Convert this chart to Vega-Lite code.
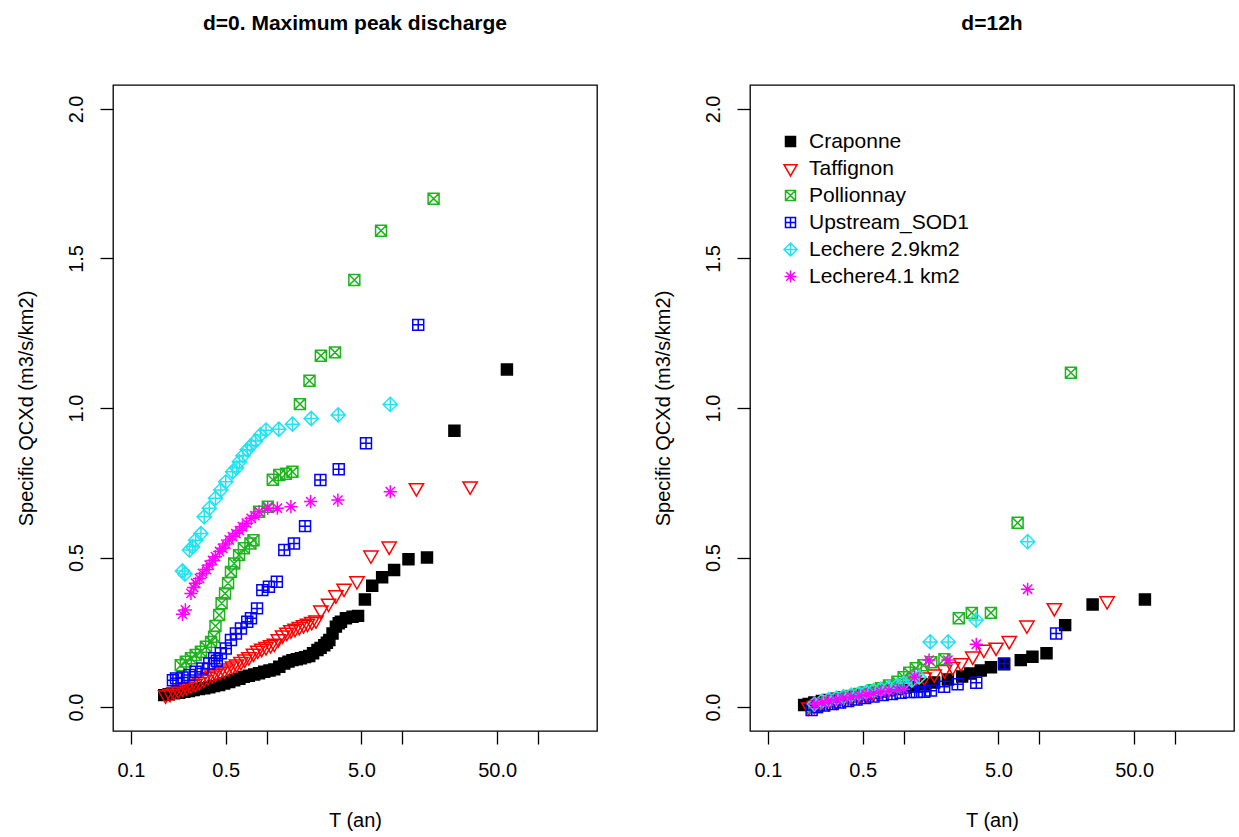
{
  "$schema": "https://vega.github.io/schema/vega-lite/v6.json",
  "background": "white",
  "padding": {"left": 15, "top": 12, "right": 0, "bottom": 0},
  "config": {
    "font": "Liberation Sans",
    "view": {"stroke": "black", "strokeWidth": 1.3},
    "axis": {
      "grid": false, "domain": false,
      "tickColor": "black", "tickSize": 13, "tickWidth": 1.3,
      "labelColor": "black", "labelFontSize": 20, "labelFont": "Liberation Sans",
      "titleColor": "black", "titleFontSize": 20, "titleFontWeight": "normal", "titleFont": "Liberation Sans"
    },
    "title": {"fontSize": 21, "fontWeight": "bold", "anchor": "middle", "offset": 51, "color": "black", "font": "Liberation Sans"}
  },
  "datasets": {
    "d0": [
      {"site": "Craponne", "T": 0.176, "q": 0.04}, {"site": "Craponne", "T": 0.19, "q": 0.043}, {"site": "Craponne", "T": 0.208, "q": 0.046},
      {"site": "Craponne", "T": 0.227, "q": 0.048}, {"site": "Craponne", "T": 0.247, "q": 0.051}, {"site": "Craponne", "T": 0.268, "q": 0.054},
      {"site": "Craponne", "T": 0.29, "q": 0.057}, {"site": "Craponne", "T": 0.317, "q": 0.06}, {"site": "Craponne", "T": 0.347, "q": 0.063},
      {"site": "Craponne", "T": 0.378, "q": 0.066}, {"site": "Craponne", "T": 0.41, "q": 0.07}, {"site": "Craponne", "T": 0.447, "q": 0.074},
      {"site": "Craponne", "T": 0.487, "q": 0.079}, {"site": "Craponne", "T": 0.53, "q": 0.084}, {"site": "Craponne", "T": 0.577, "q": 0.09},
      {"site": "Craponne", "T": 0.63, "q": 0.095}, {"site": "Craponne", "T": 0.68, "q": 0.101}, {"site": "Craponne", "T": 0.74, "q": 0.105},
      {"site": "Craponne", "T": 0.81, "q": 0.109}, {"site": "Craponne", "T": 0.88, "q": 0.113}, {"site": "Craponne", "T": 0.96, "q": 0.118},
      {"site": "Craponne", "T": 1.05, "q": 0.122}, {"site": "Craponne", "T": 1.14, "q": 0.126}, {"site": "Craponne", "T": 1.24, "q": 0.135},
      {"site": "Craponne", "T": 1.35, "q": 0.146}, {"site": "Craponne", "T": 1.45, "q": 0.152}, {"site": "Craponne", "T": 1.55, "q": 0.157},
      {"site": "Craponne", "T": 1.67, "q": 0.16}, {"site": "Craponne", "T": 1.79, "q": 0.163}, {"site": "Craponne", "T": 1.92, "q": 0.167},
      {"site": "Craponne", "T": 2.06, "q": 0.171}, {"site": "Craponne", "T": 2.2, "q": 0.18}, {"site": "Craponne", "T": 2.37, "q": 0.191},
      {"site": "Craponne", "T": 2.5, "q": 0.198}, {"site": "Craponne", "T": 2.66, "q": 0.207}, {"site": "Craponne", "T": 2.78, "q": 0.215},
      {"site": "Craponne", "T": 2.9, "q": 0.224}, {"site": "Craponne", "T": 3.06, "q": 0.246}, {"site": "Craponne", "T": 3.24, "q": 0.269},
      {"site": "Craponne", "T": 3.4, "q": 0.28}, {"site": "Craponne", "T": 3.53, "q": 0.285}, {"site": "Craponne", "T": 3.84, "q": 0.297},
      {"site": "Craponne", "T": 4.3, "q": 0.302}, {"site": "Craponne", "T": 4.72, "q": 0.305}, {"site": "Craponne", "T": 5.3, "q": 0.36},
      {"site": "Craponne", "T": 6.0, "q": 0.406}, {"site": "Craponne", "T": 7.1, "q": 0.434}, {"site": "Craponne", "T": 8.7, "q": 0.458},
      {"site": "Craponne", "T": 11.1, "q": 0.494}, {"site": "Craponne", "T": 15.2, "q": 0.5}, {"site": "Craponne", "T": 24.2, "q": 0.924},
      {"site": "Craponne", "T": 59.0, "q": 1.129},

      {"site": "Taffignon", "T": 0.18, "q": 0.04}, {"site": "Taffignon", "T": 0.194, "q": 0.045}, {"site": "Taffignon", "T": 0.208, "q": 0.051},
      {"site": "Taffignon", "T": 0.223, "q": 0.057}, {"site": "Taffignon", "T": 0.24, "q": 0.063}, {"site": "Taffignon", "T": 0.258, "q": 0.068},
      {"site": "Taffignon", "T": 0.277, "q": 0.074}, {"site": "Taffignon", "T": 0.298, "q": 0.079}, {"site": "Taffignon", "T": 0.32, "q": 0.085},
      {"site": "Taffignon", "T": 0.344, "q": 0.093}, {"site": "Taffignon", "T": 0.37, "q": 0.101}, {"site": "Taffignon", "T": 0.395, "q": 0.107},
      {"site": "Taffignon", "T": 0.42, "q": 0.113}, {"site": "Taffignon", "T": 0.452, "q": 0.118}, {"site": "Taffignon", "T": 0.487, "q": 0.124},
      {"site": "Taffignon", "T": 0.52, "q": 0.13}, {"site": "Taffignon", "T": 0.56, "q": 0.137}, {"site": "Taffignon", "T": 0.6, "q": 0.144},
      {"site": "Taffignon", "T": 0.647, "q": 0.152}, {"site": "Taffignon", "T": 0.69, "q": 0.16}, {"site": "Taffignon", "T": 0.74, "q": 0.168},
      {"site": "Taffignon", "T": 0.8, "q": 0.18}, {"site": "Taffignon", "T": 0.86, "q": 0.19}, {"site": "Taffignon", "T": 0.92, "q": 0.196},
      {"site": "Taffignon", "T": 0.99, "q": 0.202}, {"site": "Taffignon", "T": 1.07, "q": 0.208}, {"site": "Taffignon", "T": 1.14, "q": 0.213},
      {"site": "Taffignon", "T": 1.22, "q": 0.228}, {"site": "Taffignon", "T": 1.31, "q": 0.241}, {"site": "Taffignon", "T": 1.41, "q": 0.25},
      {"site": "Taffignon", "T": 1.51, "q": 0.258}, {"site": "Taffignon", "T": 1.62, "q": 0.263}, {"site": "Taffignon", "T": 1.74, "q": 0.269},
      {"site": "Taffignon", "T": 1.87, "q": 0.275}, {"site": "Taffignon", "T": 2.0, "q": 0.28}, {"site": "Taffignon", "T": 2.15, "q": 0.286},
      {"site": "Taffignon", "T": 2.31, "q": 0.291}, {"site": "Taffignon", "T": 2.51, "q": 0.324}, {"site": "Taffignon", "T": 2.86, "q": 0.347},
      {"site": "Taffignon", "T": 3.24, "q": 0.375}, {"site": "Taffignon", "T": 3.72, "q": 0.397}, {"site": "Taffignon", "T": 4.63, "q": 0.422},
      {"site": "Taffignon", "T": 5.87, "q": 0.508}, {"site": "Taffignon", "T": 8.0, "q": 0.538}, {"site": "Taffignon", "T": 12.7, "q": 0.733},
      {"site": "Taffignon", "T": 31.6, "q": 0.739},

      {"site": "Pollionnay", "T": 0.233, "q": 0.14}, {"site": "Pollionnay", "T": 0.254, "q": 0.152}, {"site": "Pollionnay", "T": 0.277, "q": 0.163},
      {"site": "Pollionnay", "T": 0.3, "q": 0.174}, {"site": "Pollionnay", "T": 0.328, "q": 0.185}, {"site": "Pollionnay", "T": 0.357, "q": 0.202},
      {"site": "Pollionnay", "T": 0.39, "q": 0.218}, {"site": "Pollionnay", "T": 0.41, "q": 0.235}, {"site": "Pollionnay", "T": 0.42, "q": 0.271},
      {"site": "Pollionnay", "T": 0.447, "q": 0.308}, {"site": "Pollionnay", "T": 0.466, "q": 0.347}, {"site": "Pollionnay", "T": 0.494, "q": 0.38},
      {"site": "Pollionnay", "T": 0.52, "q": 0.414}, {"site": "Pollionnay", "T": 0.546, "q": 0.452}, {"site": "Pollionnay", "T": 0.577, "q": 0.48},
      {"site": "Pollionnay", "T": 0.627, "q": 0.508}, {"site": "Pollionnay", "T": 0.68, "q": 0.531}, {"site": "Pollionnay", "T": 0.76, "q": 0.547},
      {"site": "Pollionnay", "T": 0.8, "q": 0.558}, {"site": "Pollionnay", "T": 0.88, "q": 0.653}, {"site": "Pollionnay", "T": 1.02, "q": 0.67},
      {"site": "Pollionnay", "T": 1.11, "q": 0.76}, {"site": "Pollionnay", "T": 1.24, "q": 0.776}, {"site": "Pollionnay", "T": 1.39, "q": 0.78},
      {"site": "Pollionnay", "T": 1.55, "q": 0.787}, {"site": "Pollionnay", "T": 1.76, "q": 1.013}, {"site": "Pollionnay", "T": 2.07, "q": 1.091},
      {"site": "Pollionnay", "T": 2.51, "q": 1.175}, {"site": "Pollionnay", "T": 3.19, "q": 1.186}, {"site": "Pollionnay", "T": 4.43, "q": 1.428},
      {"site": "Pollionnay", "T": 6.97, "q": 1.593}, {"site": "Pollionnay", "T": 17.0, "q": 1.7},

      {"site": "Upstream_SOD1", "T": 0.204, "q": 0.09}, {"site": "Upstream_SOD1", "T": 0.215, "q": 0.096}, {"site": "Upstream_SOD1", "T": 0.24, "q": 0.099},
      {"site": "Upstream_SOD1", "T": 0.27, "q": 0.107}, {"site": "Upstream_SOD1", "T": 0.3, "q": 0.118}, {"site": "Upstream_SOD1", "T": 0.337, "q": 0.129},
      {"site": "Upstream_SOD1", "T": 0.378, "q": 0.146}, {"site": "Upstream_SOD1", "T": 0.41, "q": 0.163}, {"site": "Upstream_SOD1", "T": 0.43, "q": 0.155},
      {"site": "Upstream_SOD1", "T": 0.46, "q": 0.18}, {"site": "Upstream_SOD1", "T": 0.5, "q": 0.196}, {"site": "Upstream_SOD1", "T": 0.546, "q": 0.224},
      {"site": "Upstream_SOD1", "T": 0.594, "q": 0.246}, {"site": "Upstream_SOD1", "T": 0.647, "q": 0.263}, {"site": "Upstream_SOD1", "T": 0.72, "q": 0.285},
      {"site": "Upstream_SOD1", "T": 0.767, "q": 0.297}, {"site": "Upstream_SOD1", "T": 0.85, "q": 0.33}, {"site": "Upstream_SOD1", "T": 0.93, "q": 0.391},
      {"site": "Upstream_SOD1", "T": 1.04, "q": 0.402}, {"site": "Upstream_SOD1", "T": 1.19, "q": 0.419}, {"site": "Upstream_SOD1", "T": 1.35, "q": 0.525},
      {"site": "Upstream_SOD1", "T": 1.59, "q": 0.547}, {"site": "Upstream_SOD1", "T": 1.92, "q": 0.605}, {"site": "Upstream_SOD1", "T": 2.49, "q": 0.759},
      {"site": "Upstream_SOD1", "T": 3.4, "q": 0.795}, {"site": "Upstream_SOD1", "T": 5.4, "q": 0.882}, {"site": "Upstream_SOD1", "T": 13.1, "q": 1.278},

      {"site": "Lechere 2.9km2", "T": 0.24, "q": 0.455}, {"site": "Lechere 2.9km2", "T": 0.25, "q": 0.445}, {"site": "Lechere 2.9km2", "T": 0.27, "q": 0.525},
      {"site": "Lechere 2.9km2", "T": 0.285, "q": 0.536}, {"site": "Lechere 2.9km2", "T": 0.3, "q": 0.558}, {"site": "Lechere 2.9km2", "T": 0.328, "q": 0.58},
      {"site": "Lechere 2.9km2", "T": 0.347, "q": 0.636}, {"site": "Lechere 2.9km2", "T": 0.378, "q": 0.665}, {"site": "Lechere 2.9km2", "T": 0.42, "q": 0.698},
      {"site": "Lechere 2.9km2", "T": 0.46, "q": 0.726}, {"site": "Lechere 2.9km2", "T": 0.5, "q": 0.753}, {"site": "Lechere 2.9km2", "T": 0.562, "q": 0.787},
      {"site": "Lechere 2.9km2", "T": 0.6, "q": 0.8}, {"site": "Lechere 2.9km2", "T": 0.63, "q": 0.82}, {"site": "Lechere 2.9km2", "T": 0.67, "q": 0.84},
      {"site": "Lechere 2.9km2", "T": 0.72, "q": 0.86}, {"site": "Lechere 2.9km2", "T": 0.77, "q": 0.875}, {"site": "Lechere 2.9km2", "T": 0.83, "q": 0.89},
      {"site": "Lechere 2.9km2", "T": 0.9, "q": 0.91}, {"site": "Lechere 2.9km2", "T": 0.99, "q": 0.926}, {"site": "Lechere 2.9km2", "T": 1.23, "q": 0.929},
      {"site": "Lechere 2.9km2", "T": 1.55, "q": 0.946}, {"site": "Lechere 2.9km2", "T": 2.13, "q": 0.965}, {"site": "Lechere 2.9km2", "T": 3.37, "q": 0.977},
      {"site": "Lechere 2.9km2", "T": 8.15, "q": 1.012},

      {"site": "Lechere4.1 km2", "T": 0.24, "q": 0.31}, {"site": "Lechere4.1 km2", "T": 0.252, "q": 0.325}, {"site": "Lechere4.1 km2", "T": 0.277, "q": 0.38},
      {"site": "Lechere4.1 km2", "T": 0.29, "q": 0.4}, {"site": "Lechere4.1 km2", "T": 0.3, "q": 0.414}, {"site": "Lechere4.1 km2", "T": 0.32, "q": 0.43},
      {"site": "Lechere4.1 km2", "T": 0.337, "q": 0.447}, {"site": "Lechere4.1 km2", "T": 0.36, "q": 0.46}, {"site": "Lechere4.1 km2", "T": 0.378, "q": 0.475},
      {"site": "Lechere4.1 km2", "T": 0.4, "q": 0.49}, {"site": "Lechere4.1 km2", "T": 0.42, "q": 0.503}, {"site": "Lechere4.1 km2", "T": 0.45, "q": 0.52},
      {"site": "Lechere4.1 km2", "T": 0.474, "q": 0.531}, {"site": "Lechere4.1 km2", "T": 0.5, "q": 0.545}, {"site": "Lechere4.1 km2", "T": 0.53, "q": 0.559},
      {"site": "Lechere4.1 km2", "T": 0.56, "q": 0.57}, {"site": "Lechere4.1 km2", "T": 0.594, "q": 0.58}, {"site": "Lechere4.1 km2", "T": 0.63, "q": 0.59},
      {"site": "Lechere4.1 km2", "T": 0.664, "q": 0.603}, {"site": "Lechere4.1 km2", "T": 0.71, "q": 0.615}, {"site": "Lechere4.1 km2", "T": 0.77, "q": 0.631},
      {"site": "Lechere4.1 km2", "T": 0.82, "q": 0.64}, {"site": "Lechere4.1 km2", "T": 0.88, "q": 0.653}, {"site": "Lechere4.1 km2", "T": 1.02, "q": 0.665},
      {"site": "Lechere4.1 km2", "T": 1.2, "q": 0.665}, {"site": "Lechere4.1 km2", "T": 1.51, "q": 0.67}, {"site": "Lechere4.1 km2", "T": 2.11, "q": 0.687},
      {"site": "Lechere4.1 km2", "T": 3.35, "q": 0.692}, {"site": "Lechere4.1 km2", "T": 8.15, "q": 0.72}
    ],
    "d12": [
      {"site": "Craponne", "T": 0.185, "q": 0.007}, {"site": "Craponne", "T": 0.2, "q": 0.01}, {"site": "Craponne", "T": 0.22, "q": 0.015},
      {"site": "Craponne", "T": 0.25, "q": 0.02}, {"site": "Craponne", "T": 0.28, "q": 0.024}, {"site": "Craponne", "T": 0.32, "q": 0.028},
      {"site": "Craponne", "T": 0.36, "q": 0.032}, {"site": "Craponne", "T": 0.41, "q": 0.036}, {"site": "Craponne", "T": 0.47, "q": 0.04},
      {"site": "Craponne", "T": 0.53, "q": 0.044}, {"site": "Craponne", "T": 0.6, "q": 0.048}, {"site": "Craponne", "T": 0.68, "q": 0.052},
      {"site": "Craponne", "T": 0.78, "q": 0.056}, {"site": "Craponne", "T": 0.9, "q": 0.06}, {"site": "Craponne", "T": 1.03, "q": 0.065},
      {"site": "Craponne", "T": 1.2, "q": 0.07}, {"site": "Craponne", "T": 1.42, "q": 0.076}, {"site": "Craponne", "T": 1.68, "q": 0.082},
      {"site": "Craponne", "T": 2.12, "q": 0.092}, {"site": "Craponne", "T": 2.7, "q": 0.102}, {"site": "Craponne", "T": 3.1, "q": 0.112},
      {"site": "Craponne", "T": 3.7, "q": 0.122}, {"site": "Craponne", "T": 4.4, "q": 0.133}, {"site": "Craponne", "T": 5.5, "q": 0.143},
      {"site": "Craponne", "T": 7.3, "q": 0.157}, {"site": "Craponne", "T": 8.9, "q": 0.168}, {"site": "Craponne", "T": 11.3, "q": 0.18},
      {"site": "Craponne", "T": 15.5, "q": 0.274}, {"site": "Craponne", "T": 24.7, "q": 0.343}, {"site": "Craponne", "T": 60.0, "q": 0.36},

      {"site": "Taffignon", "T": 0.2, "q": 0.0}, {"site": "Taffignon", "T": 0.22, "q": 0.005}, {"site": "Taffignon", "T": 0.25, "q": 0.01},
      {"site": "Taffignon", "T": 0.28, "q": 0.015}, {"site": "Taffignon", "T": 0.32, "q": 0.02}, {"site": "Taffignon", "T": 0.36, "q": 0.025},
      {"site": "Taffignon", "T": 0.41, "q": 0.03}, {"site": "Taffignon", "T": 0.47, "q": 0.036}, {"site": "Taffignon", "T": 0.53, "q": 0.042},
      {"site": "Taffignon", "T": 0.6, "q": 0.048}, {"site": "Taffignon", "T": 0.68, "q": 0.055}, {"site": "Taffignon", "T": 0.78, "q": 0.062},
      {"site": "Taffignon", "T": 0.9, "q": 0.07}, {"site": "Taffignon", "T": 1.03, "q": 0.08}, {"site": "Taffignon", "T": 1.2, "q": 0.09},
      {"site": "Taffignon", "T": 1.42, "q": 0.1}, {"site": "Taffignon", "T": 1.68, "q": 0.11}, {"site": "Taffignon", "T": 2.0, "q": 0.125},
      {"site": "Taffignon", "T": 2.3, "q": 0.135}, {"site": "Taffignon", "T": 2.65, "q": 0.148}, {"site": "Taffignon", "T": 3.23, "q": 0.17},
      {"site": "Taffignon", "T": 3.9, "q": 0.193}, {"site": "Taffignon", "T": 4.8, "q": 0.2}, {"site": "Taffignon", "T": 6.0, "q": 0.222},
      {"site": "Taffignon", "T": 8.1, "q": 0.274}, {"site": "Taffignon", "T": 12.9, "q": 0.332}, {"site": "Taffignon", "T": 31.6, "q": 0.355},

      {"site": "Pollionnay", "T": 0.22, "q": 0.0}, {"site": "Pollionnay", "T": 0.25, "q": 0.01}, {"site": "Pollionnay", "T": 0.28, "q": 0.018},
      {"site": "Pollionnay", "T": 0.32, "q": 0.025}, {"site": "Pollionnay", "T": 0.36, "q": 0.03}, {"site": "Pollionnay", "T": 0.41, "q": 0.037},
      {"site": "Pollionnay", "T": 0.47, "q": 0.044}, {"site": "Pollionnay", "T": 0.53, "q": 0.05}, {"site": "Pollionnay", "T": 0.6, "q": 0.056},
      {"site": "Pollionnay", "T": 0.68, "q": 0.063}, {"site": "Pollionnay", "T": 0.78, "q": 0.072}, {"site": "Pollionnay", "T": 0.9, "q": 0.085},
      {"site": "Pollionnay", "T": 1.0, "q": 0.1}, {"site": "Pollionnay", "T": 1.1, "q": 0.115}, {"site": "Pollionnay", "T": 1.23, "q": 0.13},
      {"site": "Pollionnay", "T": 1.4, "q": 0.14}, {"site": "Pollionnay", "T": 1.6, "q": 0.15}, {"site": "Pollionnay", "T": 2.0, "q": 0.16},
      {"site": "Pollionnay", "T": 2.55, "q": 0.297}, {"site": "Pollionnay", "T": 3.18, "q": 0.315}, {"site": "Pollionnay", "T": 4.4, "q": 0.315},
      {"site": "Pollionnay", "T": 6.92, "q": 0.616}, {"site": "Pollionnay", "T": 17.1, "q": 1.118},

      {"site": "Upstream_SOD1", "T": 0.21, "q": -0.01}, {"site": "Upstream_SOD1", "T": 0.23, "q": 0.0}, {"site": "Upstream_SOD1", "T": 0.26, "q": 0.005},
      {"site": "Upstream_SOD1", "T": 0.3, "q": 0.01}, {"site": "Upstream_SOD1", "T": 0.34, "q": 0.015}, {"site": "Upstream_SOD1", "T": 0.39, "q": 0.02},
      {"site": "Upstream_SOD1", "T": 0.45, "q": 0.025}, {"site": "Upstream_SOD1", "T": 0.52, "q": 0.03}, {"site": "Upstream_SOD1", "T": 0.6, "q": 0.035},
      {"site": "Upstream_SOD1", "T": 0.7, "q": 0.04}, {"site": "Upstream_SOD1", "T": 0.82, "q": 0.044}, {"site": "Upstream_SOD1", "T": 0.95, "q": 0.048},
      {"site": "Upstream_SOD1", "T": 1.1, "q": 0.05}, {"site": "Upstream_SOD1", "T": 1.25, "q": 0.05}, {"site": "Upstream_SOD1", "T": 1.42, "q": 0.051},
      {"site": "Upstream_SOD1", "T": 1.59, "q": 0.055}, {"site": "Upstream_SOD1", "T": 1.99, "q": 0.068}, {"site": "Upstream_SOD1", "T": 2.5, "q": 0.076},
      {"site": "Upstream_SOD1", "T": 3.43, "q": 0.081}, {"site": "Upstream_SOD1", "T": 5.5, "q": 0.146}, {"site": "Upstream_SOD1", "T": 13.3, "q": 0.246},

      {"site": "Lechere 2.9km2", "T": 0.22, "q": 0.01}, {"site": "Lechere 2.9km2", "T": 0.25, "q": 0.02}, {"site": "Lechere 2.9km2", "T": 0.28, "q": 0.025},
      {"site": "Lechere 2.9km2", "T": 0.32, "q": 0.03}, {"site": "Lechere 2.9km2", "T": 0.36, "q": 0.035}, {"site": "Lechere 2.9km2", "T": 0.41, "q": 0.04},
      {"site": "Lechere 2.9km2", "T": 0.47, "q": 0.045}, {"site": "Lechere 2.9km2", "T": 0.53, "q": 0.05}, {"site": "Lechere 2.9km2", "T": 0.6, "q": 0.055},
      {"site": "Lechere 2.9km2", "T": 0.68, "q": 0.06}, {"site": "Lechere 2.9km2", "T": 0.78, "q": 0.065}, {"site": "Lechere 2.9km2", "T": 0.9, "q": 0.072},
      {"site": "Lechere 2.9km2", "T": 1.0, "q": 0.08}, {"site": "Lechere 2.9km2", "T": 1.15, "q": 0.09}, {"site": "Lechere 2.9km2", "T": 1.3, "q": 0.1},
      {"site": "Lechere 2.9km2", "T": 1.57, "q": 0.218}, {"site": "Lechere 2.9km2", "T": 2.13, "q": 0.218}, {"site": "Lechere 2.9km2", "T": 3.42, "q": 0.291},
      {"site": "Lechere 2.9km2", "T": 8.2, "q": 0.553},

      {"site": "Lechere4.1 km2", "T": 0.22, "q": 0.01}, {"site": "Lechere4.1 km2", "T": 0.25, "q": 0.015}, {"site": "Lechere4.1 km2", "T": 0.28, "q": 0.02},
      {"site": "Lechere4.1 km2", "T": 0.32, "q": 0.025}, {"site": "Lechere4.1 km2", "T": 0.36, "q": 0.03}, {"site": "Lechere4.1 km2", "T": 0.41, "q": 0.034},
      {"site": "Lechere4.1 km2", "T": 0.47, "q": 0.038}, {"site": "Lechere4.1 km2", "T": 0.53, "q": 0.042}, {"site": "Lechere4.1 km2", "T": 0.6, "q": 0.046},
      {"site": "Lechere4.1 km2", "T": 0.68, "q": 0.05}, {"site": "Lechere4.1 km2", "T": 0.78, "q": 0.054}, {"site": "Lechere4.1 km2", "T": 0.9, "q": 0.058},
      {"site": "Lechere4.1 km2", "T": 1.0, "q": 0.06}, {"site": "Lechere4.1 km2", "T": 1.2, "q": 0.1}, {"site": "Lechere4.1 km2", "T": 1.54, "q": 0.157},
      {"site": "Lechere4.1 km2", "T": 2.12, "q": 0.157}, {"site": "Lechere4.1 km2", "T": 3.43, "q": 0.21}, {"site": "Lechere4.1 km2", "T": 8.2, "q": 0.394}
    ]
  },
  "bounds": "flush",
  "spacing": 153,
  "resolve": {"legend": {"stroke": "independent", "fill": "independent", "shape": "independent"}},
  "hconcat": [
    {
      "width": 484,
      "height": 646,
      "title": "d=0. Maximum peak discharge",
      "data": {"name": "d0"},
      "mark": {"type": "point", "filled": false, "strokeWidth": 1.5, "opacity": 1, "size": 120},
      "encoding": {
        "x": {
          "field": "T", "type": "quantitative", "title": "T (an)",
          "scale": {"type": "log", "domain": [0.0738, 272], "nice": false},
          "axis": {
            "values": [0.1, 0.5, 1, 5, 10, 50, 100],
            "labelExpr": "datum.value == 0.1 ? '0.1' : datum.value == 0.5 ? '0.5' : datum.value == 5 ? '5.0' : datum.value == 50 ? '50.0' : ''",
            "labelFlush": false, "labelOverlap": false, "labelPadding": 16, "titlePadding": 30
          }
        },
        "y": {
          "field": "q", "type": "quantitative", "title": "Specific QCXd (m3/s/km2)",
          "scale": {"domain": [-0.08, 2.08], "nice": false, "zero": false},
          "axis": {
            "values": [0, 0.5, 1, 1.5, 2], "format": ".1f",
            "labelAngle": 270, "labelAlign": "center", "labelBaseline": "bottom",
            "labelFlush": false, "labelOverlap": false, "labelPadding": 14, "titlePadding": 30
          }
        },
        "stroke": {
          "field": "site", "type": "nominal", "legend": null,
          "scale": {"domain": ["Craponne", "Taffignon", "Pollionnay", "Upstream_SOD1", "Lechere 2.9km2", "Lechere4.1 km2"],
                    "range": ["black", "red", "#1fb31f", "#0000ff", "#22e3f0", "#ff00ff"]}
        },
        "fill": {
          "field": "site", "type": "nominal", "legend": null,
          "scale": {"domain": ["Craponne", "Taffignon", "Pollionnay", "Upstream_SOD1", "Lechere 2.9km2", "Lechere4.1 km2"],
                    "range": ["black", "transparent", "transparent", "transparent", "transparent", "transparent"]}
        },
        "shape": {
          "field": "site", "type": "nominal", "legend": null,
          "scale": {"domain": ["Craponne", "Taffignon", "Pollionnay", "Upstream_SOD1", "Lechere 2.9km2", "Lechere4.1 km2"],
                    "range": [
                      "M-1,-1H1V1H-1Z",
                      "M-1.3,-0.75L1.3,-0.75L0,1.5Z",
                      "M-1,-1H1V1H-1ZM-1,-1L1,1M-1,1L1,-1",
                      "M-1,-1H1V1H-1ZM0,-1V1M-1,0H1",
                      "M0,-1.3L1.3,0L0,1.3L-1.3,0ZM0,-1.3V1.3M-1.3,0H1.3",
                      "M0,-1.2V1.2M-1.2,0H1.2M-0.85,-0.85L0.85,0.85M-0.85,0.85L0.85,-0.85"
                    ]}
        }
      }
    },
    {
      "width": 484,
      "height": 646,
      "title": "d=12h",
      "data": {"name": "d12"},
      "mark": {"type": "point", "filled": false, "strokeWidth": 1.5, "opacity": 1, "size": 120},
      "encoding": {
        "x": {
          "field": "T", "type": "quantitative", "title": "T (an)",
          "scale": {"type": "log", "domain": [0.0738, 272], "nice": false},
          "axis": {
            "values": [0.1, 0.5, 1, 5, 10, 50, 100],
            "labelExpr": "datum.value == 0.1 ? '0.1' : datum.value == 0.5 ? '0.5' : datum.value == 5 ? '5.0' : datum.value == 50 ? '50.0' : ''",
            "labelFlush": false, "labelOverlap": false, "labelPadding": 16, "titlePadding": 30
          }
        },
        "y": {
          "field": "q", "type": "quantitative", "title": "Specific QCXd (m3/s/km2)",
          "scale": {"domain": [-0.08, 2.08], "nice": false, "zero": false},
          "axis": {
            "values": [0, 0.5, 1, 1.5, 2], "format": ".1f",
            "labelAngle": 270, "labelAlign": "center", "labelBaseline": "bottom",
            "labelFlush": false, "labelOverlap": false, "labelPadding": 14, "titlePadding": 30
          }
        },
        "stroke": {
          "field": "site", "type": "nominal",
          "legend": {"title": null, "orient": "none", "legendX": 30, "legendY": 46, "labelFontSize": 21, "labelColor": "black", "labelOffset": 8, "rowPadding": 5, "padding": 0, "symbolStrokeWidth": 1.5, "symbolSize": 100},
          "scale": {"domain": ["Craponne", "Taffignon", "Pollionnay", "Upstream_SOD1", "Lechere 2.9km2", "Lechere4.1 km2"],
                    "range": ["black", "red", "#1fb31f", "#0000ff", "#22e3f0", "#ff00ff"]}
        },
        "fill": {
          "field": "site", "type": "nominal",
          "legend": {"title": null, "orient": "none", "legendX": 30, "legendY": 46, "labelFontSize": 21, "labelColor": "black", "labelOffset": 8, "rowPadding": 5, "padding": 0, "symbolStrokeWidth": 1.5, "symbolSize": 100},
          "scale": {"domain": ["Craponne", "Taffignon", "Pollionnay", "Upstream_SOD1", "Lechere 2.9km2", "Lechere4.1 km2"],
                    "range": ["black", "transparent", "transparent", "transparent", "transparent", "transparent"]}
        },
        "shape": {
          "field": "site", "type": "nominal",
          "legend": {"title": null, "orient": "none", "legendX": 30, "legendY": 46, "labelFontSize": 21, "labelColor": "black", "labelOffset": 8, "rowPadding": 5, "padding": 0, "symbolStrokeWidth": 1.5, "symbolSize": 100},
          "scale": {"domain": ["Craponne", "Taffignon", "Pollionnay", "Upstream_SOD1", "Lechere 2.9km2", "Lechere4.1 km2"],
                    "range": [
                      "M-1,-1H1V1H-1Z",
                      "M-1.3,-0.75L1.3,-0.75L0,1.5Z",
                      "M-1,-1H1V1H-1ZM-1,-1L1,1M-1,1L1,-1",
                      "M-1,-1H1V1H-1ZM0,-1V1M-1,0H1",
                      "M0,-1.3L1.3,0L0,1.3L-1.3,0ZM0,-1.3V1.3M-1.3,0H1.3",
                      "M0,-1.2V1.2M-1.2,0H1.2M-0.85,-0.85L0.85,0.85M-0.85,0.85L0.85,-0.85"
                    ]}
        }
      }
    }
  ]
}
